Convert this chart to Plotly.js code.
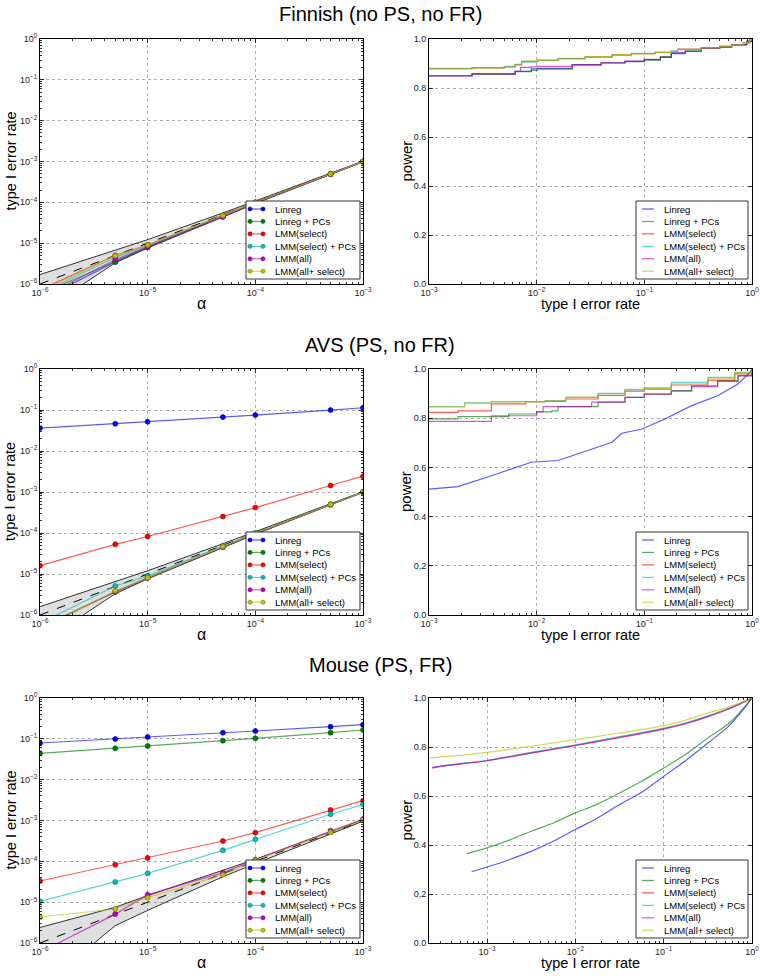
<!DOCTYPE html>
<html><head><meta charset="utf-8">
<script src="https://cdn.plot.ly/plotly-3.0.1.min.js"></script>
<style>html,body{margin:0;padding:0;background:#fff}</style>
</head><body><div id="chart" style="width:760px;height:976px"></div>
<script>
// ---------- labels ----------
const seriesNames = ['Linreg','Linreg + PCs','LMM(select)','LMM(select) + PCs','LMM(all)','LMM(all+ select)'];
const seriesColors = ['#0000ff','#008000','#ff0000','#00bfbf','#bf00bf','#bfbf00'];
const panelTitles = ['Finnish (no PS, no FR)','AVS (PS, no FR)','Mouse (PS, FR)'];
const leftXTitle = 'α', leftYTitle = 'type I error rate';
const rightXTitle = 'type I error rate', rightYTitle = 'power';
const leftXTickVals = [1e-6,1e-5,1e-4,1e-3];
const leftXTickText = ['10<sup>−6</sup>','10<sup>−5</sup>','10<sup>−4</sup>','10<sup>−3</sup>'];
const leftYTickVals = [1e-6,1e-5,1e-4,1e-3,1e-2,1e-1,1];
const leftYTickText = ['10<sup>−6</sup>','10<sup>−5</sup>','10<sup>−4</sup>','10<sup>−3</sup>','10<sup>−2</sup>','10<sup>−1</sup>','10<sup>0</sup>'];
const rightXTickVals = [1e-3,1e-2,1e-1,1];
const rightXTickText = ['10<sup>−3</sup>','10<sup>−2</sup>','10<sup>−1</sup>','10<sup>0</sup>'];
const rightYTickVals = [0,0.2,0.4,0.6,0.8,1.0];
const rightYTickText = ['0.0','0.2','0.4','0.6','0.8','1.0'];

// ---------- type I error vs alpha ----------
const alphaLevels = [1e-6,5e-6,1e-5,5e-5,1e-4,5e-4,1e-3];

const finnishBandLow  = [2e-7,3.3e-6,7.6e-6,4.5e-5,9.3e-5,4.85e-4,9.8e-4];
const finnishBandHigh = [1.7e-6,6.6e-6,1.22e-5,5.5e-5,1.07e-4,5.15e-4,1.02e-3];
const finnishLinreg      = [4.0e-7,3.5e-6,8.0e-6,4.5e-5,9.8e-5,4.9e-4,1.0e-3];
const finnishLinregPCs   = [5.6e-7,3.45e-6,7.9e-6,4.6e-5,9.7e-5,4.9e-4,1.0e-3];
const finnishLMMselect   = [7.2e-7,5.0e-6,9.0e-6,4.8e-5,1.0e-4,5.0e-4,1.0e-3];
const finnishLMMselectPCs= [5.8e-7,4.5e-6,8.5e-6,4.7e-5,9.9e-5,4.95e-4,1.0e-3];
const finnishLMMall      = [4.4e-7,3.96e-6,8.2e-6,4.4e-5,9.6e-5,4.9e-4,1.0e-3];
const finnishLMMallSel   = [6.5e-7,4.95e-6,9.0e-6,4.75e-5,1.0e-4,4.95e-4,1.0e-3];

const avsBandLow  = [2e-7,3.3e-6,7.6e-6,4.5e-5,9.3e-5,4.85e-4,9.8e-4];
const avsBandHigh = [1.6e-6,6.5e-6,1.2e-5,5.5e-5,1.07e-4,5.15e-4,1.02e-3];
const avsLinreg      = [0.0362,0.0462,0.0517,0.0672,0.0752,0.0996,0.1135];
const avsLinregPCs   = [5.0e-7,3.7e-6,8.1e-6,4.7e-5,9.8e-5,4.9e-4,1.0e-3];
const avsLMMselect   = [1.6e-5,5.3e-5,8.2e-5,2.52e-4,4.17e-4,1.44e-3,2.43e-3];
const avsLMMselectPCs= [6.3e-7,5.1e-6,8.9e-6,4.9e-5,1.0e-4,5.0e-4,1.0e-3];
const avsLMMall      = [4.8e-7,3.65e-6,8.0e-6,4.5e-5,9.6e-5,4.9e-4,1.0e-3];
const avsLMMallSel   = [4.5e-7,3.9e-6,8.1e-6,4.7e-5,9.9e-5,4.95e-4,1.0e-3];

const mouseBandLow  = [8e-8,2.66e-6,6.3e-6,4.2e-5,8.8e-5,4.7e-4,9.6e-4];
const mouseBandHigh = [2.4e-6,7.5e-6,1.45e-5,5.9e-5,1.12e-4,5.3e-4,1.04e-3];
const mouseLinreg      = [0.079,0.099,0.111,0.1415,0.1556,0.1986,0.222];
const mouseLinregPCs   = [0.0441,0.0585,0.0667,0.0902,0.1028,0.1415,0.1644];
const mouseLMMselect   = [3.3e-5,8.3e-5,1.21e-4,3.15e-4,5.04e-4,1.81e-3,3.06e-3];
const mouseLMMselectPCs= [1.05e-5,3.12e-5,5.08e-5,1.86e-4,3.46e-4,1.42e-3,2.49e-3];
const mouseLMMall      = [5.9e-7,5.1e-6,1.53e-5,5.27e-5,1.1e-4,5.64e-4,1.09e-3];
const mouseLMMallSel   = [4.33e-6,6.8e-6,1.29e-5,4.71e-5,1.06e-4,5.13e-4,1.03e-3];

// ---------- power vs type I error rate ----------
const fpLinregX = [0.001,0.00251,0.00631,0.00708,0.00891,0.0102,0.0214,0.0398,0.0661,0.1,0.141,0.178,0.24,0.339,0.501,0.646,0.891,1];
const fpLinregY = [0.85,0.858,0.868,0.868,0.878,0.88,0.895,0.902,0.909,0.916,0.925,0.943,0.95,0.963,0.967,0.977,0.99,1];
const fpLinregPCsX = [0.001,0.00251,0.00631,0.00708,0.00891,0.0102,0.0214,0.0398,0.0661,0.1,0.141,0.178,0.24,0.339,0.501,0.646,0.891,1];
const fpLinregPCsY = [0.85,0.857,0.867,0.867,0.872,0.877,0.893,0.903,0.908,0.914,0.928,0.94,0.952,0.962,0.968,0.976,0.99,1];
const fpLMMselectX = [0.001,0.00251,0.00501,0.00631,0.00724,0.0102,0.0158,0.0282,0.0501,0.0759,0.126,0.178,0.204,0.339,0.501,0.646,0.832,0.955,1];
const fpLMMselectY = [0.879,0.882,0.886,0.895,0.909,0.913,0.92,0.927,0.935,0.94,0.945,0.95,0.959,0.965,0.97,0.977,0.985,0.997,1];
const fpLMMselectPCsX = [0.001,0.00251,0.00501,0.00631,0.00724,0.0102,0.0158,0.0282,0.0501,0.0759,0.126,0.178,0.204,0.339,0.501,0.646,0.832,0.955,1];
const fpLMMselectPCsY = [0.88,0.883,0.888,0.897,0.905,0.913,0.921,0.926,0.934,0.941,0.946,0.951,0.957,0.965,0.971,0.977,0.984,0.996,1];
const fpLMMallX = [0.001,0.00251,0.00631,0.00708,0.00891,0.0102,0.0214,0.0398,0.0661,0.1,0.141,0.178,0.24,0.339,0.501,0.646,0.891,1];
const fpLMMallY = [0.849,0.858,0.868,0.884,0.886,0.888,0.896,0.903,0.91,0.917,0.925,0.942,0.949,0.963,0.967,0.976,0.99,1];
const fpLMMallSelX = [0.001,0.00251,0.00501,0.00631,0.00724,0.0102,0.0158,0.0282,0.0501,0.0759,0.126,0.178,0.204,0.339,0.501,0.646,0.832,0.955,1];
const fpLMMallSelY = [0.878,0.881,0.885,0.893,0.91,0.914,0.919,0.928,0.936,0.939,0.944,0.949,0.958,0.964,0.969,0.976,0.985,0.997,1];

const apLinregX = [0.001,0.00186,0.0038,0.00631,0.00891,0.0158,0.0282,0.0501,0.0617,0.0955,0.155,0.275,0.479,0.741,0.955,1];
const apLinregY = [0.512,0.522,0.566,0.6,0.621,0.628,0.665,0.702,0.739,0.756,0.797,0.851,0.891,0.939,0.986,1];
const apLinregPCsX = [0.001,0.00186,0.0055,0.01,0.0138,0.0158,0.0372,0.0661,0.1,0.178,0.275,0.479,0.741,1];
const apLinregPCsY = [0.797,0.806,0.817,0.826,0.83,0.847,0.865,0.885,0.898,0.912,0.932,0.953,0.973,1];
const apLMMselectX = [0.001,0.00186,0.0038,0.00794,0.012,0.0186,0.0372,0.0661,0.1,0.178,0.389,0.692,1];
const apLMMselectY = [0.824,0.83,0.858,0.867,0.868,0.878,0.893,0.91,0.918,0.935,0.955,0.98,1];
const apLMMselectPCsX = [0.001,0.00214,0.0038,0.012,0.0186,0.0372,0.0661,0.1,0.178,0.389,0.692,1];
const apLMMselectPCsY = [0.847,0.862,0.867,0.872,0.885,0.901,0.915,0.923,0.946,0.966,0.986,1];
const apLMMallX = [0.001,0.0038,0.01,0.0115,0.0324,0.0661,0.1,0.178,0.275,0.479,0.741,1];
const apLMMallY = [0.787,0.81,0.826,0.847,0.865,0.885,0.898,0.91,0.928,0.95,0.972,1];
const apLMMallSelX = [0.001,0.00214,0.0038,0.012,0.0186,0.0372,0.0661,0.1,0.178,0.389,0.692,1];
const apLMMallSelY = [0.846,0.861,0.866,0.871,0.886,0.9,0.917,0.921,0.94,0.963,0.985,1];

const mpLinregX = [0.00067,0.001,0.00178,0.00316,0.00562,0.01,0.0178,0.0316,0.0562,0.1,0.178,0.316,0.562,1];
const mpLinregY = [0.291,0.31,0.34,0.374,0.415,0.463,0.51,0.565,0.615,0.68,0.745,0.816,0.89,1];
const mpLinregPCsX = [0.000594,0.001,0.00178,0.00316,0.00562,0.01,0.0178,0.0316,0.0562,0.1,0.178,0.316,0.562,1];
const mpLinregPCsY = [0.365,0.388,0.42,0.456,0.49,0.531,0.567,0.612,0.66,0.714,0.77,0.837,0.9,1];
const mpLMMselectX = [0.00024,0.000316,0.000562,0.001,0.00316,0.01,0.0316,0.1,0.178,0.316,0.562,1];
const mpLMMselectY = [0.714,0.722,0.733,0.744,0.776,0.807,0.84,0.875,0.897,0.925,0.958,1];
const mpLMMselectPCsX = [0.00024,0.000316,0.000562,0.001,0.00316,0.01,0.0316,0.1,0.178,0.316,0.562,1];
const mpLMMselectPCsY = [0.716,0.723,0.735,0.746,0.778,0.809,0.842,0.877,0.899,0.927,0.96,1];
const mpLMMallX = [0.00024,0.000316,0.000562,0.001,0.00316,0.01,0.0316,0.1,0.178,0.316,0.562,1];
const mpLMMallY = [0.717,0.723,0.733,0.744,0.775,0.806,0.838,0.873,0.895,0.923,0.957,1];
const mpLMMallSelX = [0.000222,0.000316,0.000562,0.001,0.00316,0.01,0.0316,0.1,0.178,0.316,0.562,1];
const mpLMMallSelY = [0.754,0.76,0.768,0.778,0.803,0.83,0.857,0.887,0.91,0.939,0.965,1];

// ---------- assembly ----------
const FONT = 'Liberation Sans, Arial, Helvetica, sans-serif';
const W = 760, H = 976;
const rows = [{top:39,bottom:284,title:14},{top:369,bottom:615,title:345},{top:698,bottom:943,title:665}];
const leftPx = [40,363], rightPx = [429,752];
const PX = x => x / W, PY = y => 1 - y / H;

function rgba(hex, a){
  const n = parseInt(hex.slice(1),16);
  return `rgba(${(n>>16)&255},${(n>>8)&255},${n&255},${a})`;
}
function darker(hex){
  const n = parseInt(hex.slice(1),16);
  const f = v => Math.round(v*0.55);
  return `rgb(${f((n>>16)&255)},${f((n>>8)&255)},${f(n&255)})`;
}

const t1Sets = [
  {low:finnishBandLow, high:finnishBandHigh, series:[finnishLinreg,finnishLinregPCs,finnishLMMselect,finnishLMMselectPCs,finnishLMMall,finnishLMMallSel]},
  {low:avsBandLow, high:avsBandHigh, series:[avsLinreg,avsLinregPCs,avsLMMselect,avsLMMselectPCs,avsLMMall,avsLMMallSel]},
  {low:mouseBandLow, high:mouseBandHigh, series:[mouseLinreg,mouseLinregPCs,mouseLMMselect,mouseLMMselectPCs,mouseLMMall,mouseLMMallSel]}
];
const powSets = [
  {shape:['hv','hv','hv','hv','hv','hv'], xs:[fpLinregX,fpLinregPCsX,fpLMMselectX,fpLMMselectPCsX,fpLMMallX,fpLMMallSelX], ys:[fpLinregY,fpLinregPCsY,fpLMMselectY,fpLMMselectPCsY,fpLMMallY,fpLMMallSelY]},
  {shape:['linear','hv','hv','hv','hv','hv'], xs:[apLinregX,apLinregPCsX,apLMMselectX,apLMMselectPCsX,apLMMallX,apLMMallSelX], ys:[apLinregY,apLinregPCsY,apLMMselectY,apLMMselectPCsY,apLMMallY,apLMMallSelY]},
  {shape:['spline','spline','spline','spline','spline','spline'], xs:[mpLinregX,mpLinregPCsX,mpLMMselectX,mpLMMselectPCsX,mpLMMallX,mpLMMallSelX], ys:[mpLinregY,mpLinregPCsY,mpLMMselectY,mpLMMselectPCsY,mpLMMallY,mpLMMallSelY]}
];
const rightXRanges = [[-3,0],[-3,0],[-3.657,0]];

function minorLog(lo, hi){
  const v=[]; for(let p=lo;p<hi;p++){ for(let m=2;m<10;m++){ v.push(m*Math.pow(10,p)); } } return v;
}

function axisBase(extra){
  return Object.assign({
    showline:true, linecolor:'#000', linewidth:1, mirror:'allticks',
    ticks:'inside', ticklen:4, tickwidth:0.8, tickcolor:'#000',
    showgrid:true, gridcolor:'#9a9a9a', griddash:'dot', gridwidth:0.8,
    zeroline:false, tickfont:{family:FONT, size:9, color:'#222'},
    tickmode:'array', fixedrange:true
  }, extra);
}

const traces = [];
const layout = {
  width:W, height:H, margin:{l:0,r:0,t:0,b:0}, showlegend:false,
  paper_bgcolor:'#fff', plot_bgcolor:'#fff', font:{family:FONT, color:'#000'},
  shapes:[], annotations:[]
};
function note(text, x, y, size, extra){
  layout.annotations.push(Object.assign({text:text, xref:'paper', yref:'paper', x:PX(x), y:PY(y),
    xanchor:'center', yanchor:'middle', showarrow:false, borderpad:0,
    font:{family:FONT, size:size, color:'#000'}}, extra||{}));
}

rows.forEach((row, r) => {
  const iL = 2*r+1, iR = 2*r+2;
  const sfx = i => (i===1 ? '' : String(i));
  const yDom = [PY(row.bottom), PY(row.top)];
  layout['xaxis'+sfx(iL)] = axisBase({type:'log', domain:[PX(leftPx[0]),PX(leftPx[1])], range:[-6,-3], anchor:'y'+sfx(iL),
    tickvals:leftXTickVals, ticktext:leftXTickText,
    minor:{tickmode:'array', tickvals:minorLog(-6,-3), ticks:'inside', ticklen:2, tickcolor:'#000', showgrid:false}});
  layout['yaxis'+sfx(iL)] = axisBase({type:'log', domain:yDom, range:[-6,0], anchor:'x'+sfx(iL),
    tickvals:leftYTickVals, ticktext:leftYTickText,
    minor:{tickmode:'array', tickvals:minorLog(-6,0), ticks:'inside', ticklen:2, tickcolor:'#000', showgrid:false}});
  layout['xaxis'+sfx(iR)] = axisBase({type:'log', domain:[PX(rightPx[0]),PX(rightPx[1])], range:rightXRanges[r], anchor:'y'+sfx(iR),
    tickvals:rightXTickVals, ticktext:rightXTickText,
    minor:{tickmode:'array', tickvals:minorLog(-4,0), ticks:'inside', ticklen:2, tickcolor:'#000', showgrid:false}});
  layout['yaxis'+sfx(iR)] = axisBase({type:'linear', domain:yDom, range:[0,1], anchor:'x'+sfx(iR),
    tickvals:rightYTickVals, ticktext:rightYTickText});

  // left panel
  const set = t1Sets[r];
  const xa = 'x'+sfx(iL), ya = 'y'+sfx(iL);
  traces.push({x:alphaLevels, y:set.low, xaxis:xa, yaxis:ya, mode:'lines', line:{color:'#000', width:0.8}, hoverinfo:'skip'});
  traces.push({x:alphaLevels, y:set.high, xaxis:xa, yaxis:ya, mode:'lines', fill:'tonexty', fillcolor:'rgba(150,150,150,0.3)', line:{color:'#000', width:0.8}, hoverinfo:'skip'});
  traces.push({x:alphaLevels, y:alphaLevels, xaxis:xa, yaxis:ya, mode:'lines', line:{color:'#000', width:1, dash:'dash'}, hoverinfo:'skip'});
  set.series.forEach((s, k) => {
    traces.push({x:alphaLevels, y:s, xaxis:xa, yaxis:ya, mode:'lines+markers', name:seriesNames[k],
      line:{color:rgba(seriesColors[k],0.65), width:1.2},
      marker:{color:seriesColors[k], size:5, line:{color:darker(seriesColors[k]), width:0.6}}});
  });
  // right panel
  const ps = powSets[r];
  const xb = 'x'+sfx(iR), yb = 'y'+sfx(iR);
  ps.xs.forEach((xs, k) => {
    traces.push({x:xs, y:ps.ys[k], xaxis:xb, yaxis:yb, mode:'lines', name:seriesNames[k],
      line:{color:rgba(seriesColors[k],0.65), width:1.2, shape:ps.shape[k]}});
  });

  // row title and axis titles
  note(panelTitles[r], W/2, row.title, 20);
  const midY = (row.top + row.bottom) / 2;
  note(leftXTitle, (leftPx[0]+leftPx[1])/2, row.bottom + 19, 16);
  note(rightXTitle, (rightPx[0]+rightPx[1])/2, row.bottom + 20, 14.5);
  note(leftYTitle, 10, midY, 14.5, {textangle:-90});
  note(rightYTitle, 406, midY, 15, {textangle:-90});

  // legends (box, samples, labels)
  [{right:leftPx[1]-3, w:114, markers:true, lineOff:[4,17], textOff:28},
   {right:rightPx[1]-4, w:112, markers:false, lineOff:[6,18], textOff:27}].forEach(lg => {
    const bottom = row.bottom - 5, top = bottom - 78, left = lg.right - lg.w;
    layout.shapes.push({type:'rect', xref:'paper', yref:'paper', x0:PX(left), x1:PX(lg.right), y0:PY(bottom), y1:PY(top), line:{color:'#333', width:1}, fillcolor:'#fff', layer:'above'});
    seriesNames.forEach((nm, k) => {
      const cy = top + 8 + k*12.45;
      const x0 = left + lg.lineOff[0], x1 = left + lg.lineOff[1];
      layout.shapes.push({type:'line', xref:'paper', yref:'paper', x0:PX(x0), x1:PX(x1), y0:PY(cy), y1:PY(cy), line:{color:rgba(seriesColors[k],0.65), width:1.2}, layer:'above'});
      if(lg.markers){
        [x0,x1].forEach(cx => layout.shapes.push({type:'circle', xref:'paper', yref:'paper', x0:PX(cx-2.1), x1:PX(cx+2.1), y0:PY(cy+2.1), y1:PY(cy-2.1), fillcolor:seriesColors[k], line:{color:darker(seriesColors[k]), width:0.5}, layer:'above'}));
      }
      note(nm, left + lg.textOff, cy, 9.5, {xanchor:'left'});
    });
  });
});

Plotly.newPlot('chart', traces, layout, {displayModeBar:false, staticPlot:true});
</script>
</body></html>
